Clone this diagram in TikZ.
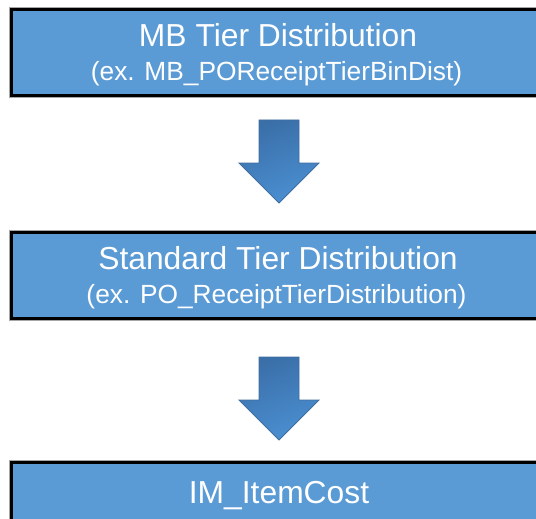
\documentclass[tikz,border=0pt]{standalone}
\usepackage{fontspec}
\setmainfont{Liberation Sans}
\begin{document}
\begin{tikzpicture}[x=1pt,y=-1pt,
  tierbox/.style={draw=black, line width=2.6pt, fill=boxblue, minimum width=533pt, minimum height=86pt, inner sep=0pt, rectangle},
  boxshadow/.style={draw=black!35, line width=4.5pt, minimum width=533pt, minimum height=86pt, inner sep=0pt, rectangle},
  bigtxt/.style={text=white, anchor=base, inner sep=0pt, font=\fontsize{31.8}{36}\selectfont},
  smalltxt/.style={text=white, anchor=base, inner sep=0pt, font=\fontsize{26.3}{30}\selectfont},
  blockarrow/.style={draw=arrowedge, line width=0.8pt, line join=miter, shading=axis, top color=arrowdark, bottom color=arrowlight, shading angle=20}
]
\definecolor{boxblue}{HTML}{5B9BD5}
\definecolor{arrowdark}{HTML}{3A6FA8}
\definecolor{arrowlight}{HTML}{4B8FD2}
\definecolor{arrowedge}{HTML}{3E6E9E}
\useasboundingbox (0,0) rectangle (536,519);
\clip (0,0) rectangle (536,519);
% boxes
\node[boxshadow] (s1) at (278,52.5) {};
\node[tierbox] (b1) at (278,52.5) {};
\node[boxshadow] (s2) at (278,275.5) {};
\node[tierbox] (b2) at (278,275.5) {};
\node[boxshadow] (s3) at (278,505.5) {};
\node[tierbox] (b3) at (278,505.5) {};
% texts
\node[bigtxt] (t1a) at (278,46.3) {MB Tier Distribution};
\node[smalltxt] (t1b) at (276.5,80.3) {(ex. MB\_POReceiptTierBinDist)};
\node[bigtxt] (t2a) at (278,269.3) {Standard Tier Distribution};
\node[smalltxt] (t2b) at (276.5,303.3) {(ex. PO\_ReceiptTierDistribution)};
\node[bigtxt] (t3a) at (279,503) {IM\_ItemCost};
% block arrows
\draw[blockarrow] (259,120) -- (299,120) -- (299,163) -- (319,163) -- (279,203) -- (239,163) -- (259,163) -- cycle;
\draw[blockarrow] (259,357) -- (299,357) -- (299,400) -- (319,400) -- (279,440) -- (239,400) -- (259,400) -- cycle;
\end{tikzpicture}
\end{document}
